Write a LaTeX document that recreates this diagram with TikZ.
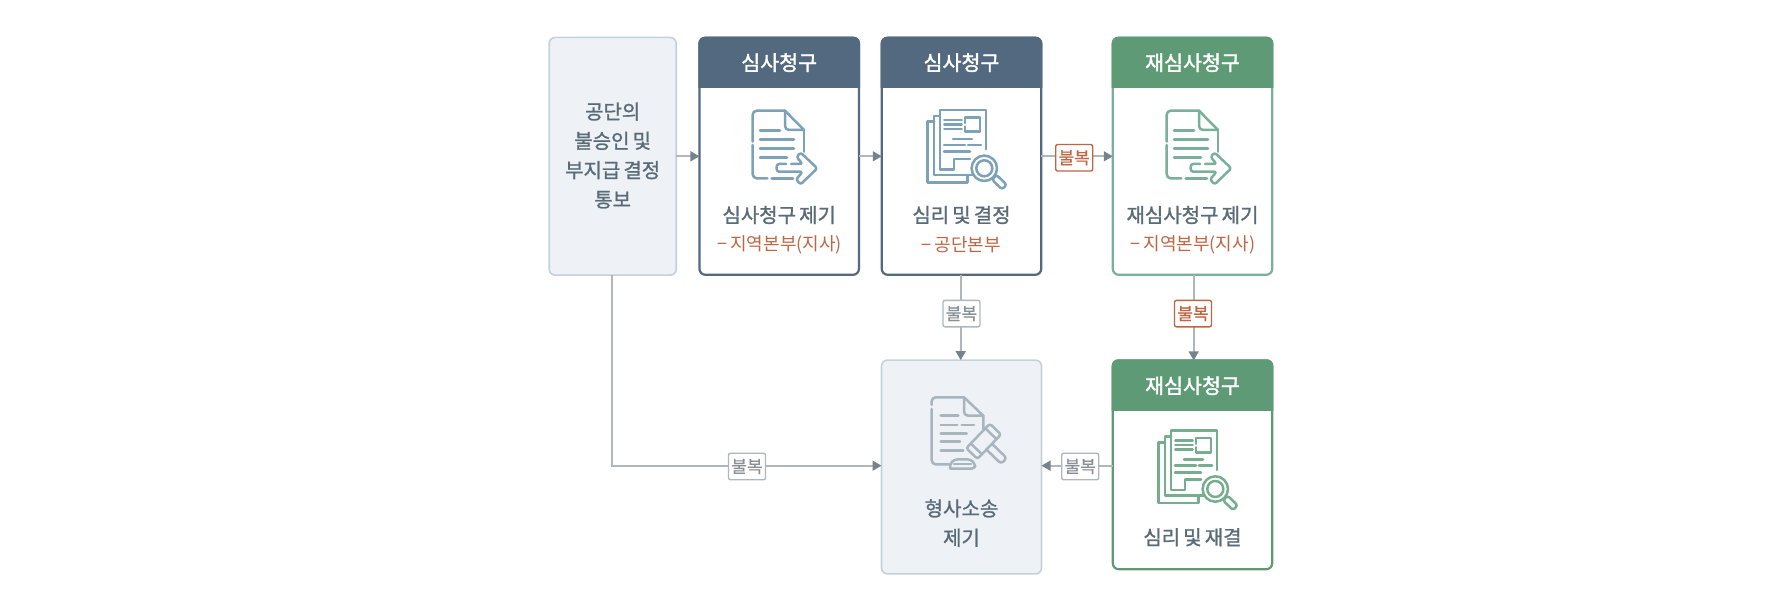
\documentclass[tikz,border=0pt]{standalone}
\usepackage{fontspec}
\setmainfont{Noto Sans CJK KR}
\usetikzlibrary{arrows.meta}
\definecolor{navy}{HTML}{52697F}
\definecolor{hgreen}{HTML}{5F9A77}
\definecolor{lgreen}{HTML}{7AB09B}
\definecolor{paleb}{HTML}{EEF2F6}
\definecolor{paleline}{HTML}{C4D1DB}
\definecolor{txt}{HTML}{5A6B78}
\definecolor{rust}{HTML}{BF6544}
\definecolor{wire}{HTML}{AEB7BD}
\definecolor{tipc}{HTML}{76838C}
\definecolor{iconb}{HTML}{7DA2B8}
\definecolor{icong}{HTML}{76AD8F}
\definecolor{icongr}{HTML}{A8B4BE}
\definecolor{lblg}{HTML}{888F95}
\newfontfamily\fmain[FakeBold=1.2,WordSpace=0.7]{Noto Sans CJK KR}
\newfontfamily\ftitle[FakeBold=1.6]{Noto Sans CJK KR}
\newfontfamily\ftag[FakeBold=0.6]{Noto Sans CJK KR}
\newfontfamily\fsub[WordSpace=0.7]{Noto Sans CJK KR}
\tikzset{
  x=1pt,y=-1pt,
  card/.style={rectangle,rounded corners=6pt,outer sep=0pt,inner sep=0pt,line width=2.2pt,fill=white,minimum width=159.5pt},
  softcard/.style={card,draw=paleline,fill=paleb,line width=1.6pt},
  cardnavy/.style={card,draw=navy},
  cardgreen/.style={card,draw=lgreen},
  carddeep/.style={card,draw=hgreen},
  title/.style={font=\ftitle\fontsize{20.6}{20}\selectfont,text=white,inner sep=0pt},
  main/.style={font=\fmain\fontsize{20}{29.3}\selectfont,text=txt,align=center,inner sep=0pt},
  sub/.style={font=\fsub\fontsize{18}{20}\selectfont,text=rust,inner sep=0pt},
  tag/.style={rectangle,rounded corners=2pt,fill=white,line width=1.4pt,minimum width=37pt,minimum height=26.5pt,inner sep=0pt,font=\ftag\fontsize{17}{17}\selectfont},
  taggray/.style={tag,draw=wire,text=lblg},
  tagred/.style={tag,draw=rust,text=rust},
  wired/.style={draw=wire,line width=1.6pt},
  flow/.style={wired,-{Triangle[length=9pt,width=10pt,color=tipc]}},
  ico/.style={line width=2.5pt,line cap=round,line join=round,rounded corners=0pt}
}
\newcommand{\DocBase}[1]{%
  \draw[ico,draw=#1,rounded corners=4pt] (767.3,178.3) -- (752.7,178.3) -- (752.7,145);
  \draw[ico,draw=#1,rounded corners=4pt] (752.7,141.7) -- (752.7,110.7) -- (785,110.7);
  \draw[ico,draw=#1] (785,110.7) -- (804,130);
  \draw[ico,draw=#1,rounded corners=4pt] (785,110.7) -- (785,130) -- (804,130);
  \draw[ico,draw=#1] (804,130) -- (804,151.7);
}
\newcommand{\ArrowDoc}[3]{%
  \begin{scope}[shift={(#2,#3)}]
  \DocBase{#1}
  \draw[ico,draw=#1] (760,130.7) -- (780,130.7) (760,139.3) -- (794,139.3) (760,148.3) -- (794,148.3) (760,157.3) -- (787,157.3);
  \draw[ico,draw=#1] (771.7,178.3) -- (793,178.3);
  \draw[ico,draw=#1,rounded corners=2.5pt] (786,164) -- (776.7,164) -- (776.7,171.7) -- (802.7,171.7) -- (796,179.5) -- (800.5,184.5) -- (817.3,168.3) -- (800.5,152.5) -- (796.5,157) -- (802.7,164) -- (791,164);
  \end{scope}}
\newcommand{\ReviewDoc}[3]{%
  \begin{scope}[shift={(#2,#3)}]
  \draw[ico,draw=#1] (986,149.3) -- (986,110) -- (940,110) -- (940,169.3) -- (954,169.3) -- (954,159) -- (970,159);
  \draw[ico,draw=#1] (940,116) -- (934,116) -- (934,175) -- (973,175);
  \draw[ico,draw=#1] (934,121.7) -- (927.7,121.7) -- (927.7,182.3) -- (967.3,182.3) -- (967.3,176);
  \draw[ico,draw=#1] (944.3,120) -- (961.7,120) (944.3,124.3) -- (961.7,124.3) (944.3,129) -- (961.7,129);
  \draw[ico,draw=#1] (965,123) -- (965,117.3) -- (980,117.3) -- (980,131.7) -- (965,131.7) -- (965,126.5);
  \draw[ico,draw=#1] (953,139) -- (972,139) (944,145) -- (965,145) (968,145) -- (981,145) (944,151.7) -- (970,151.7);
  \draw[ico,draw=#1,fill=white] (984.3,168.3) circle[radius=12.7];
  \draw[ico,draw=#1] (984.3,168.3) circle[radius=8];
  \draw[ico,draw=#1,fill=white,rotate around={-44:(995,178)},rounded corners=2.5pt] (994,174.7) -- (1008,174.7) -- (1008,181.3) -- (994,181.3) -- cycle;
  \end{scope}}
\newcommand{\GavelDoc}[1]{%
  \draw[ico,draw=#1,rounded corners=4pt] (949,464.3) -- (931.7,464.3) -- (931.7,409);
  \draw[ico,draw=#1,rounded corners=4pt] (931.7,405) -- (931.7,397.3) -- (964,397.3);
  \draw[ico,draw=#1] (964,397.3) -- (983.3,415.7) -- (983.3,435);
  \draw[ico,draw=#1,rounded corners=4pt] (964,397.3) -- (964,415.7) -- (983.3,415.7);
  \draw[ico,draw=#1] (940.7,415.7) -- (958.3,415.7) (940.7,425) -- (957.3,425) (961.7,425) -- (974,425) (940.7,433.3) -- (966.7,433.3) (940.7,441.7) -- (960,441.7) (940.7,450.3) -- (963.3,450.3);
  \draw[ico,draw=#1,rounded corners=3pt] (950,468.5) -- (950,464) -- (954,459.5) -- (971,459.5) -- (975,464) -- (975,468.5) -- (950,468.5);
  \draw[ico,draw=#1] (954,464) -- (971,464);
  \begin{scope}[rotate around={-44:(983.3,441)}]
    \draw[ico,draw=#1,fill=paleb,rounded corners=2.5pt] (976,424) rectangle (991.5,458);
    \draw[ico,draw=#1] (976,430.5) -- (991.5,430.5) (976,451.5) -- (991.5,451.5);
    \draw[ico,draw=#1,rounded corners=3pt] (991.5,437) -- (1012,437) -- (1012,445) -- (991.5,445);
  \end{scope}
}
\begin{document}
\begin{tikzpicture}
\useasboundingbox (0,0) rectangle (1789,601);
% cards
\node[softcard,minimum width=127pt,minimum height=237.7pt] (b1) at (612.7,156.3) {};
\node[cardnavy,minimum height=237pt] (b2) at (779.2,156.3) {};
\node[cardnavy,minimum height=237pt] (b3) at (961.5,156.3) {};
\node[cardgreen,minimum height=237pt] (b4) at (1192.5,156.3) {};
\node[softcard,minimum width=160pt,minimum height=213.8pt] (b5) at (961.5,467) {};
\node[carddeep,minimum height=208.8pt] (b6) at (1192.5,464.8) {};
% headers
\foreach \b/\c/\h in {b2/navy/50.2,b3/navy/50.2,b4/hgreen/50.2,b6/hgreen/50.3}{
  \begin{scope}
    \clip ([xshift=-1.1pt,yshift=1.1pt]\b.north west) rectangle ([xshift=1.1pt,yshift=-\h pt]\b.north east);
    \node[rectangle,rounded corners=6.5pt,fill=\c,minimum width=161.7pt,minimum height=120pt,anchor=north,inner sep=0pt,outer sep=0pt] at ([yshift=1.1pt]\b.north) {};
  \end{scope}
}
% header text
\node[title] (t2) at (779.2,62.7) {심사청구};
\node[title] (t3) at (961.5,62.7) {심사청구};
\node[title] (t4) at (1192.5,62.7) {재심사청구};
\node[title] (t6) at (1192.5,385.7) {재심사청구};
% icons
\ArrowDoc{iconb}{0}{0}
\ReviewDoc{iconb}{0}{0}
\ArrowDoc{lgreen}{414}{0}
\ReviewDoc{icong}{231}{320.7}
\GavelDoc{icongr}
% body text
\node[main] (m1) at (612.7,155.5) {공단의\\불승인 및\\부지급 결정\\통보};
\node[main] (m2) at (779.2,215) {심사청구 제기};
\node[sub] (s2) at (779.7,245) {− 지역본부(지사)};
\node[main] (m3) at (961.5,215) {심리 및 결정};
\node[sub] (s3) at (961.5,245) {− 공단본부};
\node[main] (m4) at (1192.5,215) {재심사청구 제기};
\node[sub] (s4) at (1193,245) {− 지역본부(지사)};
\node[main] (m5) at (961.5,523) {형사소송\\제기};
\node[main] (m6) at (1192.5,537.3) {심리 및 재결};
% connectors
\draw[flow] (b1.east) -- (b2.west);
\draw[flow] (b2.east) -- (b3.west);
\draw[flow] (b3.east) -- (b4.west);
\draw[flow] ([xshift=-0.8pt]b3.south) -- ([xshift=-0.8pt]b5.north);
\draw[flow] ([xshift=1.2pt]b4.south) -- ([xshift=1.2pt]b6.north);
\draw[flow] ([xshift=-1pt]b1.south) |- ([yshift=1.3pt]b5.west);
\draw[flow] ([yshift=-0.9pt]b6.west) -- ([yshift=1.3pt]b5.east);
% tags
\node[tagred] (l1) at (1074.2,157.8) {불복};
\node[taggray] (l2) at (961.5,313.6) {불복};
\node[tagred] (l3) at (1193,313.6) {불복};
\node[taggray] (l4) at (1080.2,466.5) {불복};
\node[taggray] (l5) at (747,466.5) {불복};
\end{tikzpicture}
\end{document}
